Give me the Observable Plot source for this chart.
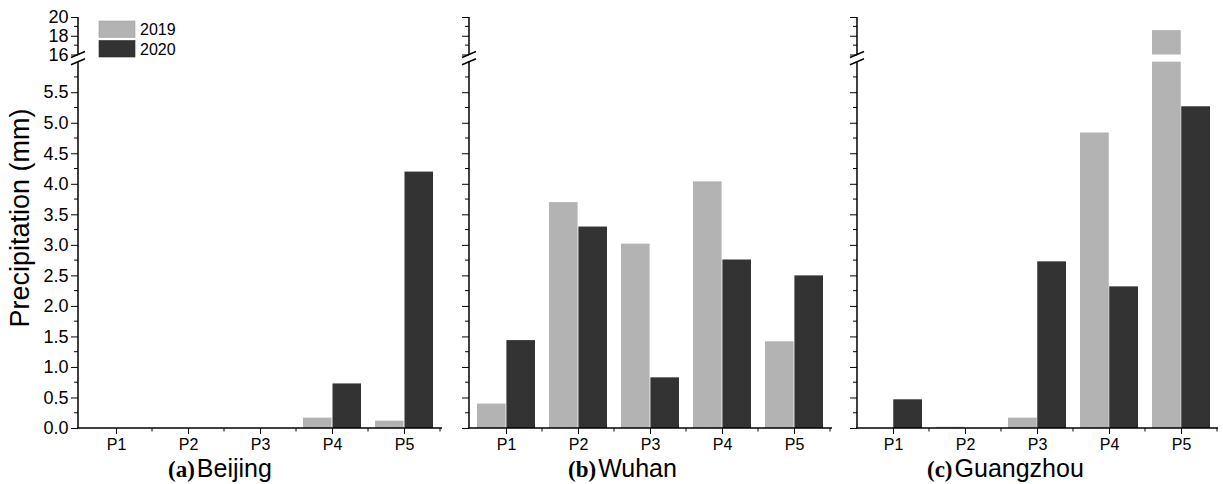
<!DOCTYPE html>
<html>
<head>
<meta charset="utf-8">
<script src="https://cdn.jsdelivr.net/npm/d3@7"></script>
<script src="https://cdn.jsdelivr.net/npm/@observablehq/plot@0.6"></script>
<style>
  body { margin: 0; background: #fff; }
  #chart { position: relative; width: 1223px; height: 484px; overflow: hidden; background: #fff; }
  #chart svg { position: absolute; top: 0; }
</style>
</head>
<body>
<div id="chart"></div>
<script>
// ---------------- data ----------------
const periods = ["P1", "P2", "P3", "P4", "P5"];
const years = ["2019", "2020"];
const yearColors = ["#b3b3b3", "#333333"];
const cities = ["Beijing", "Wuhan", "Guangzhou"];
const panelLetters = ["(a)", "(b)", "(c)"];

const beijing2019 = [0, 0, 0, 0.17, 0.12];
const beijing2020 = [0, 0, 0, 0.73, 4.20];
const wuhan2019 = [0.40, 3.70, 3.02, 4.04, 1.42];
const wuhan2020 = [1.44, 3.30, 0.83, 2.76, 2.50];
const guangzhou2019 = [0, 0.02, 0.17, 4.84, 18.6];
const guangzhou2020 = [0.47, 0, 2.73, 2.32, 5.27];

const yTicksLow = [0, 0.5, 1.0, 1.5, 2.0, 2.5, 3.0, 3.5, 4.0, 4.5, 5.0, 5.5];
const yTicksHigh = [16, 18, 20];
const yMinorTicks = [0.25, 0.75, 1.25, 1.75, 2.25, 2.75, 3.25, 3.75, 4.25, 4.75, 5.25, 5.75, 17, 19];
const yBreak = [6, 16];   // broken axis: 6 .. 16 omitted
const yMax = 20;
const yLabel = "Precipitation (mm)";

const seriesByCity = [
  [beijing2019, beijing2020],
  [wuhan2019, wuhan2020],
  [guangzhou2019, guangzhou2020]
];

// ---------------- layout ----------------
const H = 484;
const yRange = [428, 61.7, 54.5, 17];   // piecewise pixel range for [0, 6, 16, 20]
const panels = [
  {left: 0,   width: 450, ml: 78, mr: 8, labels: true,  capX: 168},
  {left: 450, width: 390, ml: 19, mr: 8, labels: false, capX: 568},
  {left: 840, width: 383, ml: 17, mr: 5, labels: false, capX: 927}
];
const padInner = 0.19, padOuter = 0.095;
const fontSans = "'Liberation Sans', Arial, Helvetica, sans-serif";
const fontSerif = "'Liberation Serif', 'Times New Roman', serif";

const chart = document.getElementById("chart");

panels.forEach((pn, ci) => {
  const [v19, v20] = seriesByCity[ci];
  const rows = periods.flatMap((p, i) => [
    {period: p, year: years[0], value: v19[i]},
    {period: p, year: years[1], value: v20[i]}
  ]);
  const band = d3.scaleBand().domain(periods)
    .range([pn.ml, pn.width - pn.mr]).paddingInner(padInner).paddingOuter(padOuter);
  const half = band.bandwidth() / 2;

  const plot = Plot.plot({
    width: pn.width,
    height: H,
    marginLeft: pn.ml,
    marginRight: pn.mr,
    marginTop: 17,
    marginBottom: H - yRange[0],
    style: {fontFamily: fontSans, fontSize: "16px", color: "#000", background: "transparent", overflow: "visible"},
    x: {type: "band", domain: periods, paddingInner: padInner, paddingOuter: padOuter,
        tickSize: 6, tickPadding: 4, label: null},
    y: {type: "linear", domain: [0, yBreak[0], yBreak[1], yMax], range: yRange,
        ticks: [...yTicksLow, ...yTicksHigh], tickSize: 7, tickPadding: 3, label: null,
        tickFormat: pn.labels ? (d => d >= yBreak[1] ? String(d) : d.toFixed(1)) : (() => "")},
    marks: [
      Plot.barY(rows.filter(d => d.year === years[0]), {x: "period", y1: 0, y2: "value", fill: yearColors[0], insetRight: half}),
      Plot.barY(rows.filter(d => d.year === years[1]), {x: "period", y1: 0, y2: "value", fill: yearColors[1], insetLeft: half}),
      Plot.rect([0], {y1: yBreak[0], y2: yBreak[1], fill: "white"})
    ]
  });
  plot.style.left = pn.left + "px";
  chart.appendChild(plot);

  const svg = d3.select(plot);
  svg.selectAll('g[aria-label^="y-axis"] text').style("font-size", "18px");

  const ys = plot.scale("y");
  const xs = plot.scale("x");
  const y = v => ys.apply(v);
  const bw = xs.bandwidth;
  const centers = periods.map(p => xs.apply(p) + bw / 2);
  const step = centers[1] - centers[0];
  const x0 = pn.ml, x1 = pn.width - pn.mr;

  const g = svg.append("g").attr("stroke", "#000").attr("fill", "none");
  // axis lines (broken y axis)
  g.append("line").attr("x1", x0).attr("x2", x0).attr("y1", y(0)).attr("y2", y(yBreak[0])).attr("stroke-width", 1.5);
  g.append("line").attr("x1", x0).attr("x2", x0).attr("y1", y(yBreak[1])).attr("y2", y(yMax)).attr("stroke-width", 1.5);
  g.append("line").attr("x1", x0 - 0.75).attr("x2", x1).attr("y1", y(0)).attr("y2", y(0)).attr("stroke-width", 1.5);
  // minor y ticks
  yMinorTicks.forEach(t => {
    g.append("line").attr("x1", x0 - 4).attr("x2", x0).attr("y1", y(t)).attr("y2", y(t));
  });
  // minor x ticks at category boundaries
  const bounds = centers.slice(1).map(c => c - step / 2).concat([centers[centers.length - 1] + step / 2]);
  bounds.forEach(bx => {
    g.append("line").attr("x1", bx).attr("x2", bx).attr("y1", y(0)).attr("y2", y(0) + 3.5);
  });
  // break marks
  [yBreak[1], yBreak[0]].forEach(v => {
    g.append("line").attr("x1", x0 - 7).attr("x2", x0 + 7).attr("y1", y(v) + 3).attr("y2", y(v) - 3).attr("stroke-width", 1.5);
  });
});

// ---------------- overlay text: y label, captions, legend ----------------
const ov = d3.select(chart).append("svg")
  .attr("width", 1223).attr("height", H)
  .style("left", "0px").style("pointer-events", "none");

ov.append("text")
  .attr("transform", "translate(29,218) rotate(-90)")
  .attr("text-anchor", "middle")
  .attr("font-family", fontSans).attr("font-size", 27).attr("fill", "#000")
  .text(yLabel);

panels.forEach((pn, ci) => {
  const t = ov.append("text").attr("x", pn.capX).attr("y", 477).attr("fill", "#000");
  t.append("tspan").attr("font-family", fontSerif).attr("font-weight", "bold").attr("font-size", 23).text(panelLetters[ci]);
  t.append("tspan").attr("dx", 2).attr("font-family", fontSans).attr("font-size", 25).text(cities[ci]);
});

years.forEach((yr, i) => {
  const top = 21 + i * 19.5;
  ov.append("rect").attr("x", 99).attr("y", top).attr("width", 36).attr("height", 16.5)
    .attr("fill", yearColors[i]).attr("stroke", i === 0 ? "#a0a0a0" : "#2a2a2a").attr("stroke-width", 0.6);
  ov.append("text").attr("x", 140).attr("y", top + 14)
    .attr("font-family", fontSans).attr("font-size", 16).attr("fill", "#000").text(yr);
});
</script>
</body>
</html>
